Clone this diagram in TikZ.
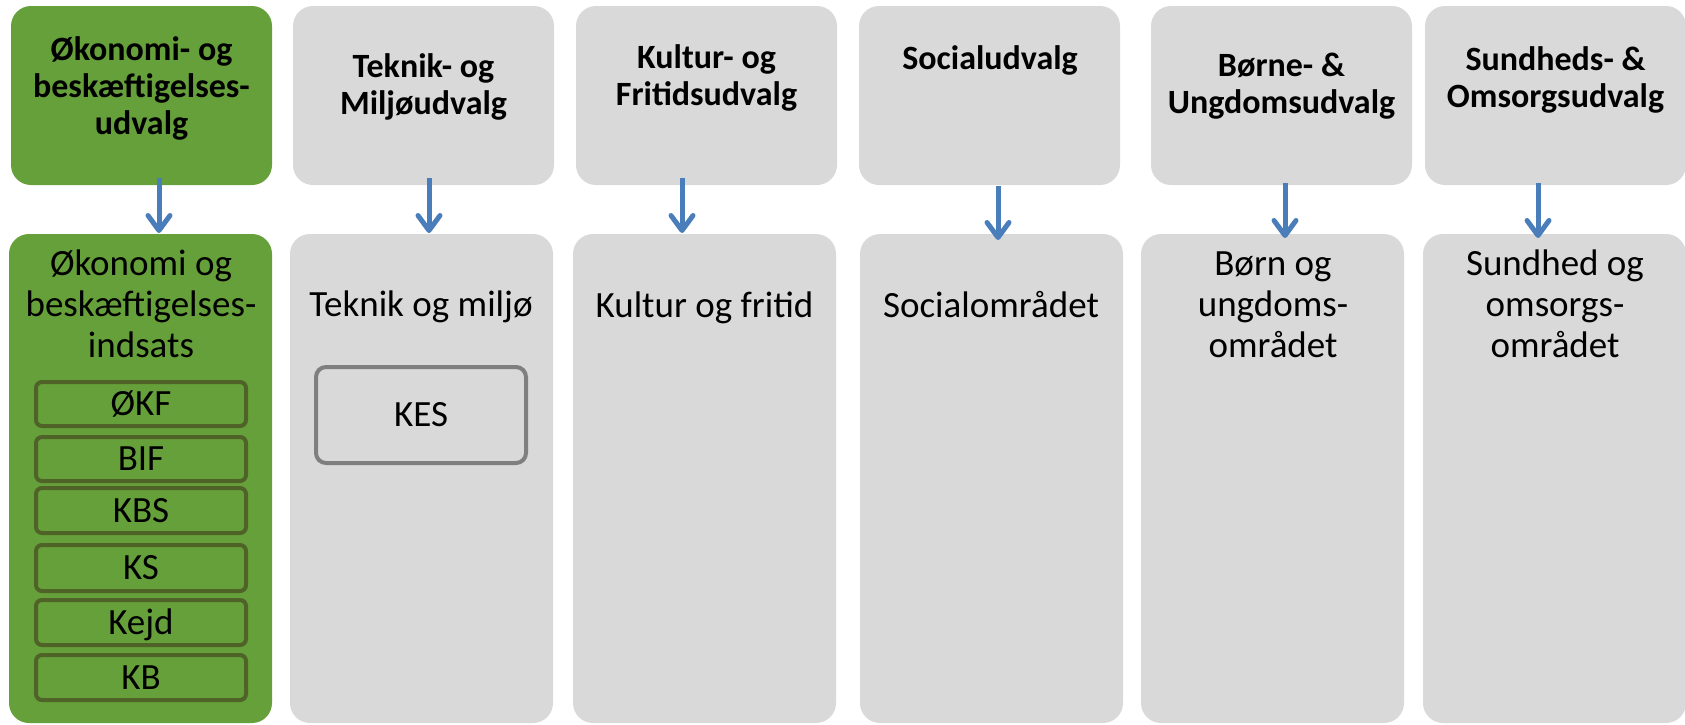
\documentclass[tikz,border=0pt]{standalone}
\usepackage{fontspec}
\setmainfont{Carlito}
\usetikzlibrary{arrows.meta}
\definecolor{grn}{HTML}{66A03A}
\definecolor{grnline}{HTML}{4F6228}
\definecolor{gry}{HTML}{D9D9D9}
\definecolor{gryline}{HTML}{7F7F7F}
\definecolor{arrblue}{HTML}{4A7EBB}
\begin{document}
\begin{tikzpicture}[x=1pt,y=-1pt,
  box/.style={anchor=north west, inner sep=0pt, outer sep=0pt, rounded corners=20pt, fill=gry},
  topbox/.style={box, minimum width=261pt, minimum height=179pt},
  botbox/.style={box, minimum width=263pt, minimum height=489pt},
  head/.style={align=center, font=\fontsize{34}{37}\selectfont\bfseries, inner sep=0pt},
  body/.style={align=center, font=\fontsize{37}{41}\selectfont, inner sep=0pt},
  sub/.style={anchor=north west, inner sep=0pt, outer sep=0pt, draw=grnline, line width=4pt,
    rounded corners=6pt, fill=grn, minimum width=210pt, font=\fontsize{37}{41}\selectfont,
    text height=23.8pt, text depth=0pt},
  arr/.style={draw=arrblue, line width=5pt, -{Straight Barb[length=15pt,width=22pt,round]}},
]
\useasboundingbox (0,0) rectangle (1685,724);

% top row
\node[topbox, fill=grn] (t1) at (11,6) {};
\node[topbox] (t2) at (293,6) {};
\node[topbox] (t3) at (576,6) {};
\node[topbox] (t4) at (859,6) {};
\node[topbox] (t5) at (1151,6) {};
\node[topbox] (t6) at (1425,6) {};

% bottom row
\node[botbox, fill=grn] (b1) at (9,234) {};
\node[botbox] (b2) at (290,234) {};
\node[botbox] (b3) at (573,234) {};
\node[botbox] (b4) at (860,234) {};
\node[botbox] (b5) at (1141,234) {};
\node[botbox] (b6) at (1423,234) {};

% headers
\node[head] (h1) at (141.5,90) {\strut Økonomi- og\\\strut beskæftigelses-\\\strut udvalg};
\node[head] (h2) at (423.5,89) {\strut Teknik- og\\\strut Miljøudvalg};
\node[head] (h3) at (706.5,80) {\strut Kultur- og\\\strut Fritidsudvalg};
\node[head] (h4) at (990,62) {\strut Socialudvalg};
\node[head] (h5) at (1281.5,88) {\strut Børne- \&\\\strut Ungdomsudvalg};
\node[head] (h6) at (1555.5,82) {\strut Sundheds- \&\\\strut Omsorgsudvalg};

% body texts
\node[body] (bt1) at (141,308) {\strut Økonomi og\\\strut beskæftigelses-\\\strut indsats};
\node[body] (bt2) at (421,308) {\strut Teknik og miljø};
\node[body] (bt3) at (704.5,309) {\strut Kultur og fritid};
\node[body] (bt4) at (991,309) {\strut Socialområdet};
\node[body] (bt5) at (1273,308) {\strut Børn og\\\strut ungdoms-\\\strut området};
\node[body] (bt6) at (1555,308) {\strut Sundhed og\\\strut omsorgs-\\\strut området};

% sub boxes
\node[sub, minimum height=44pt] (s1) at (36,382) {ØKF};
\node[sub, minimum height=44pt] (s2) at (36,437) {BIF};
\node[sub, minimum height=45pt] (s3) at (36,488) {KBS};
\node[sub, minimum height=46pt] (s4) at (36,545) {KS};
\node[sub, minimum height=45pt] (s5) at (36,600) {Kejd};
\node[sub, minimum height=45pt] (s6) at (36,655) {KB};

\node[anchor=north west, inner sep=0pt, outer sep=0pt, draw=gryline, line width=4pt,
  rounded corners=10pt, fill=gry, minimum width=210pt, minimum height=96pt,
  font=\fontsize{37}{41}\selectfont, text height=23.8pt, text depth=0pt] (kes) at (316,367) {KES};

% arrows
\coordinate (a1) at (159,0);
\coordinate (a2) at (429,0);
\coordinate (a3) at (682,0);
\coordinate (a4) at (998,0);
\coordinate (a5) at (1285,0);
\coordinate (a6) at (1538,0);
\draw[arr] ([yshift=7pt]t1.south -| a1) -- ([yshift=1pt]b1.north -| a1);
\draw[arr] ([yshift=7pt]t2.south -| a2) -- ([yshift=1pt]b2.north -| a2);
\draw[arr] ([yshift=7pt]t3.south -| a3) -- ([yshift=1pt]b3.north -| a3);
\draw[arr] ([yshift=-1pt]t4.south -| a4) -- ([yshift=-6pt]b4.north -| a4);
\draw[arr] ([yshift=2pt]t5.south -| a5) -- ([yshift=-4pt]b5.north -| a5);
\draw[arr] ([yshift=2pt]t6.south -| a6) -- ([yshift=-4pt]b6.north -| a6);
\end{tikzpicture}
\end{document}
